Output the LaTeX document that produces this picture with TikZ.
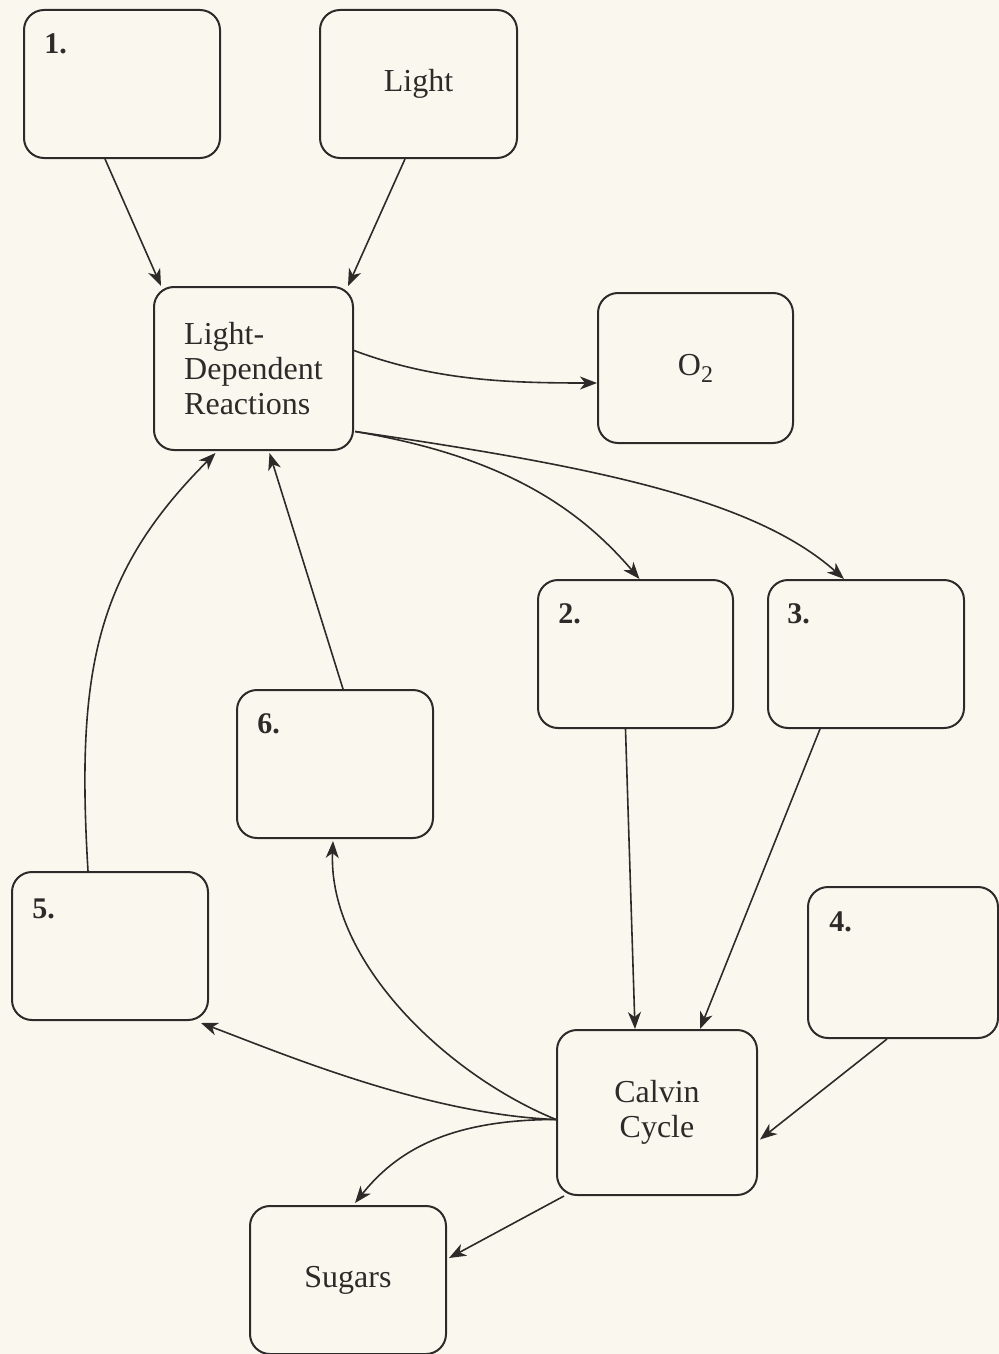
\documentclass[tikz,border=0pt]{standalone}
\usepackage{fontspec}
\setmainfont{Liberation Serif}
\usetikzlibrary{arrows.meta}
\definecolor{bgcol}{RGB}{250,248,238}
\definecolor{ink}{RGB}{45,43,41}
\begin{document}
\begin{tikzpicture}[x=0.5pt,y=-0.5pt,
  box/.style={draw=ink,line width=1pt,rounded corners=10pt,inner sep=0pt,
    font=\fontsize{16}{17.5}\selectfont,text=ink,align=center},
  numlbl/.style={font=\bfseries\fontsize{15}{16}\selectfont,anchor=west,inner sep=0pt,text=ink},
  arr/.style={draw=ink,line width=0.8pt,-{Stealth[length=8.5pt,width=6.5pt,inset=2.5pt]}}]
\fill[bgcol] (0,0) rectangle (999,1354);
\useasboundingbox (0,0) rectangle (999,1354);

% boxes
\node[box,minimum width=98pt,minimum height=74pt] (n1) at (122,84) {};
\node[box,minimum width=98.5pt,minimum height=74pt] (light) at (418.5,84) {Light};
\node[box,minimum width=99.5pt,minimum height=81.5pt,align=left] (ldr) at (253.5,368.5) {Light-\\Dependent\\Reactions};
\node[box,minimum width=97.5pt,minimum height=75pt] (o2) at (695.5,368) {O{\raisebox{-3.5pt}{\fontsize{12}{12}\selectfont 2}}};
\node[box,minimum width=97.5pt,minimum height=74pt] (n2) at (635.5,654) {};
\node[box,minimum width=98pt,minimum height=74pt] (n3) at (866,654) {};
\node[box,minimum width=98pt,minimum height=74pt] (n6) at (335,764) {};
\node[box,minimum width=98pt,minimum height=74pt] (n5) at (110,946) {};
\node[box,minimum width=95pt,minimum height=75.5pt] (n4) at (903,962.5) {};
\node[box,minimum width=100pt,minimum height=82.5pt] (calvin) at (657,1112.5) {Calvin\\Cycle};
\node[box,minimum width=98pt,minimum height=74pt] (sugars) at (348,1280) {Sugars};

% number labels
\node[numlbl] (l1) at ([shift={(21,35)}]n1.north west) {1.};
\node[numlbl] (l2) at ([shift={(21,35)}]n2.north west) {2.};
\node[numlbl] (l3) at ([shift={(20,35)}]n3.north west) {3.};
\node[numlbl] (l6) at ([shift={(21,35)}]n6.north west) {6.};
\node[numlbl] (l5) at ([shift={(21,38)}]n5.north west) {5.};
\node[numlbl] (l4) at ([shift={(22,36)}]n4.north west) {4.};

% connectors
\draw[arr] ([shift={(-17,0)}]n1.south) -- ([shift={(8,0)}]ldr.north west);
\draw[arr] ([shift={(-13.5,0)}]light.south) -- ([shift={(-6,0)}]ldr.north east);
\draw[arr] ([shift={(0,-18)}]ldr.east) .. controls +(80,30) and +(-90,0) .. ([shift={(0,15)}]o2.west);
\draw[arr] ([shift={(1,63)}]ldr.east) .. controls +(150,25) and +(-60,-70) .. ([shift={(4,0)}]n2.north);
\draw[arr] ([shift={(1,63)}]ldr.east) .. controls +(240,35) and +(-90,-80) .. ([shift={(-22,0)}]n3.north);
\draw[arr] ([shift={(-10,0)}]n2.south) -- ([shift={(-22,0)}]calvin.north);
\draw[arr] ([shift={(-46,0)}]n3.south) -- ([shift={(43,0)}]calvin.north);
\draw[arr] ([shift={(-16,0)}]n4.south) -- ([shift={(2,27)}]calvin.east);
\draw[arr] ([shift={(8,0)}]n6.north) -- ([shift={(16,2)}]ldr.south);
\draw[arr] ([shift={(-22,0)}]n5.north) .. controls +(-12,-200) and +(-120,120) .. ([shift={(-38,2)}]ldr.south);
\draw[arr] ([shift={(0,7)}]calvin.west) .. controls +(-110,-45) and +(-5,120) .. ([shift={(-2,2)}]n6.south);
\draw[arr] ([shift={(0,7)}]calvin.west) .. controls +(-130,-5) and +(80,30) .. ([shift={(-8,2)}]n5.south east);
\draw[arr] ([shift={(0,7)}]calvin.west) .. controls +(-110,0) and +(40,-50) .. ([shift={(7,-2)}]sugars.north);
\draw[arr] ([shift={(8,0)}]calvin.south west) -- ([shift={(2,-22)}]sugars.east);
\end{tikzpicture}
\end{document}
